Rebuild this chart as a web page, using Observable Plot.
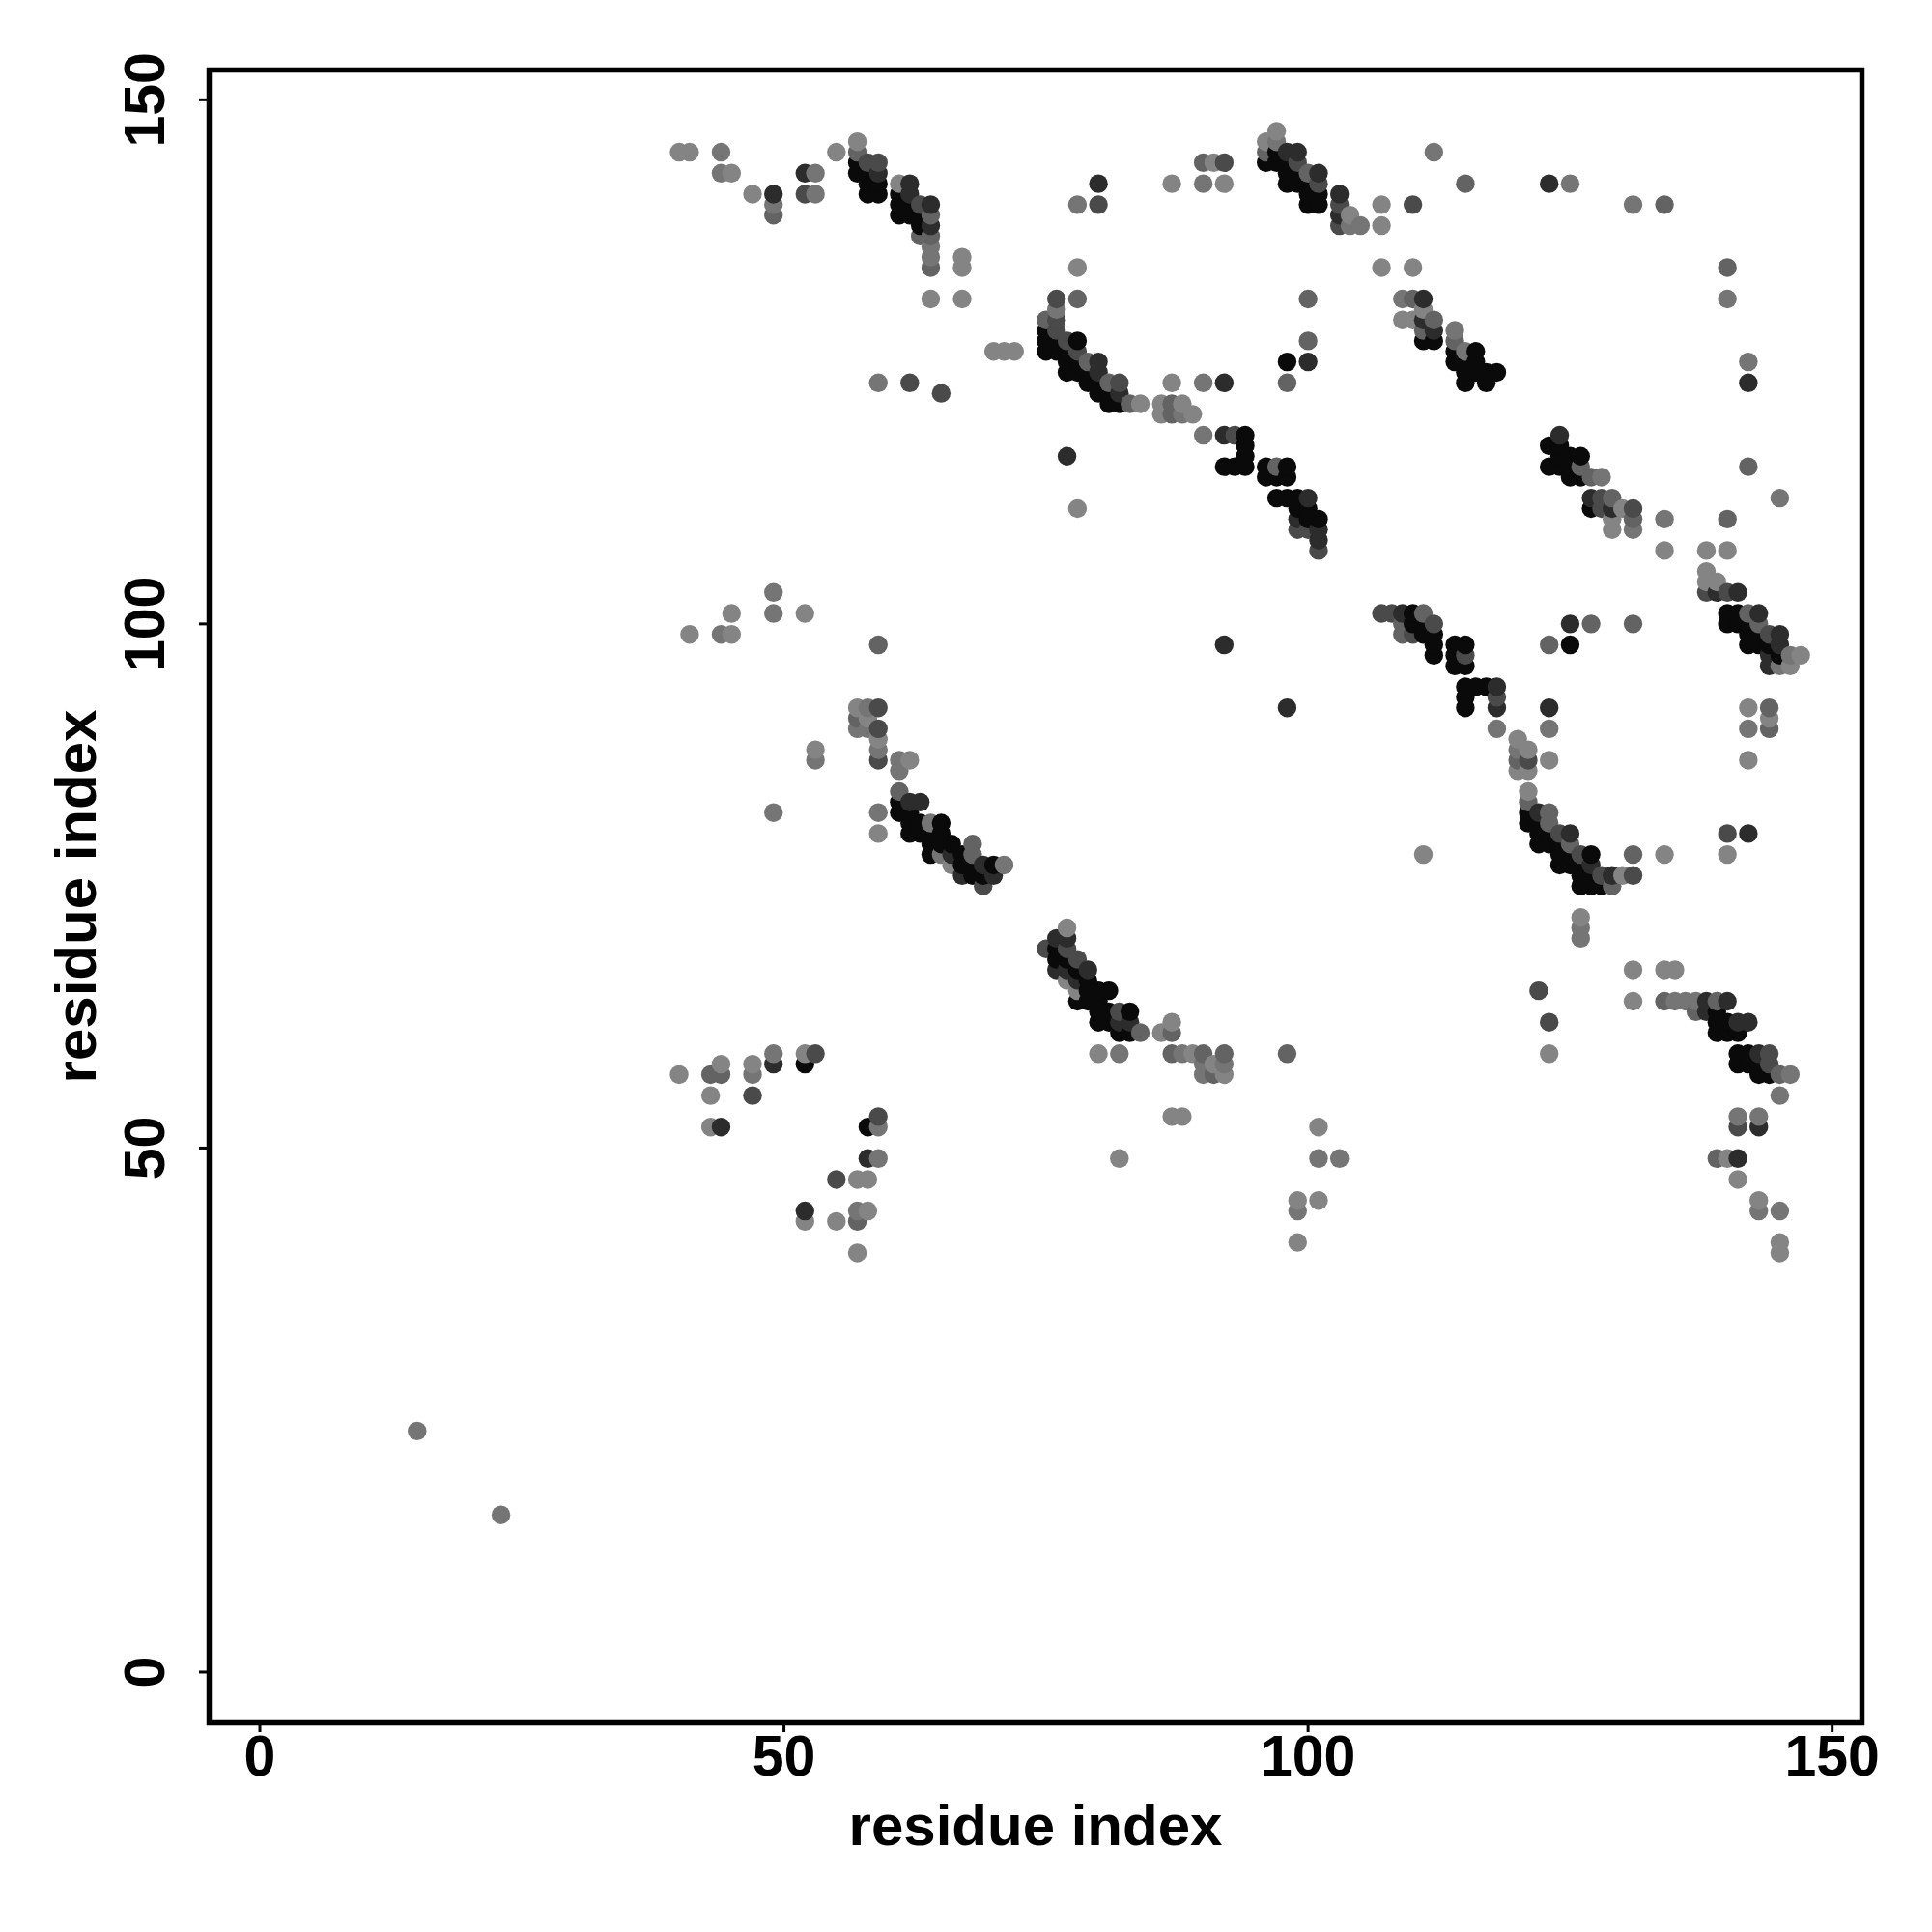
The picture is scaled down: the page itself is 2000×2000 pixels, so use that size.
<!DOCTYPE html>
<html>
<head>
<meta charset="utf-8">
<script src="https://cdn.jsdelivr.net/npm/d3@7"></script>
<script src="https://cdn.jsdelivr.net/npm/@observablehq/plot@0.6"></script>
<style>html,body{margin:0;padding:0;background:#fff}svg{display:block}</style>
</head>
<body>
<div id="chart"></div>
<script>
// Each row: first number = residue index on x, the rest = residue indices on y.
const shade0 = [[52,58],[57,144,143],[58,143,142,141,52],[59,142,141],[61,141,140,139,83,82],[62,140,139,82,81,80],[63,139,138,81,80],[64,80,79,78],[65,81,80,79],[66,79],[67,78,77],[68,77,76],[69,76],[70,77],
[75,128,127,126],[76,127,126,69,68],[77,126,125,124,68],[78,127,125,124,67,64],[79,124,123,66,65,64],[80,123,122,65,64,63,62],[81,122,121,65,63,62],[82,121,61],[83,63,61],
[92,115],[93,115],[94,118,117,116,115],[96,144,115,114],[97,145,144,114,112],[98,144,143,142,125,115,114,112],[99,143,142,112,111],[100,142,141,140,111,110],[101,141,140,110],
[110,101,100],[111,127,100,99],[112,127,99,98,97],[114,126,125,98,97,96],[115,125,124,123,98,96,94,93,92],[116,126,125,124,94],[117,124,123,94],[118,124],
[121,82,81],[122,81,80,79],[123,117,115,80,79],[124,117,116,115,79,78,77],[125,116,115,114,98,78,77],[126,116,114,77,76,75],[127,111,78,76,75],[128,75],
[139,63,62,61],[140,101,100,62,61],[141,101,100,61,59,58],[142,100,99,98,59,58],[143,99,98,58,57],[144,98,57],[145,97]];
const shade1 = [[44,52],[49,141,58],[52,143,44],[58,49],[59,143],[62,142,141,83],[63,83],[64,140,138],[66,78],[67,76],[69,77],[70,76],
[76,70,67],[77,116,70,67],[78,66],[79,67],[80,142,125,124],[82,122,62],[83,62],[92,123,118,98],[98,145,92],[99,145,110],[100,125,112],[101,143,109,108],[103,141,139],
[109,101],[111,131,129],[112,128],[118,94,92],[122,82],[123,142,92],[124,118],[125,100,80],[127,112,77],[129,111,76],[138,64,63],[139,103],[140,64],[141,103,62,49],[142,123,80,62],[143,101,59,52],[144,97,96],[145,99,98]];
const shade2 = [[47,55],[52,141],[53,59],[55,47],[58,144],[59,144,92,90,87,53],[62,123],[63,140],[65,122],[69,75],[75,69],[76,131,129,128],[77,127,69],[78,126,68],[80,140],[82,123,63],
[92,144],[93,118],[99,144,109],[100,109],[101,142,107],[103,140,138],[107,101],[108,101],[110,140,99],[112,100],[115,97],[118,93],[121,87],[122,65],[123,62],[124,80],[126,78],[128,112,111,76],[131,111,76],[138,103],[140,103,80],[141,52],[144,99,59,58]];
const shade3 = [[43,57],[44,57],[49,139],[57,145,91,43],[59,98],[61,84],[63,137],[64,139,137,134],[68,79,78],[75,129],[78,131],[79,125],[81,123],[83,121],[84,61],[87,121,120,61,59],[90,144,59],[91,57],[92,59],[96,145],[97,115],[98,123,59],[100,143,131,127],
[109,100,99],[110,131],[111,128,101],[112,129],[114,127],[115,142],[120,87],[121,83],[123,82,81,98],[125,79],[126,115],[127,114,100],[129,112,75],[131,110,100,78],[134,140,64],[137,63],[139,64,49],[140,134,110],[142,115,101],[143,100],[144,92,90],[145,57]];
const shade4 = [[15,23],[23,15],[44,145,143,99],[47,57],[49,140,103,101,82,59],[53,143,141,87],[57,90,44],[58,92,90],[59,123,88,82,52,49],[61,87,86],[64,136,135,81],[65,78],[71,77],[76,130],[78,140],[82,59],[88,120,59],[90,142,123,118,58,57],[92,58],[97,146],[99,44],[101,49],[103,49],[104,138],[105,138],
[109,131],[112,145],[114,128],[115,126],[118,90],[120,88],[123,90],[125,142],[126,71,70],[128,114],[131,140,109],[134,110],[135,64],[136,64],[137,64],[140,131],[141,53],[142,125,90],[143,53,44],[145,112,96,55,44],[146,97,57]];
const shade5 = [[40,145,57],[41,145,99],[43,55,52],[44,58],[45,143,101,99],[47,141,58],[52,101,59,43],[53,88],[55,145,43],[57,146,92,47,40],[58,91,47,44],[59,89,80],[61,142],[62,87],[64,131],[66,77],[67,135,134,131],[70,126],[71,126],[72,126],
[77,71,66],[78,134,111,65],[80,59],[82,49],[84,121],[86,121,120,61],[87,142,123,62,53],[88,121,53],[89,120,59],[91,144,58],[92,142,57],[96,146],[97,147],[99,45,41],[101,52,45],[104,139],[107,140,138,134],[109,129],[110,134,129],[111,130,78],
[120,89,86],[121,88,86,84],[123,87,59],[126,72],[129,110,109],[130,111,76],[131,67,64],[134,107,78,67],[135,67],[138,107,105,104],[139,104],[140,107,78,49],[141,47],[142,92,87],[143,45],[144,91],[145,41,40],[146,96],[147,97]];

const shades = [
  [shade0, "#0a0a0a"], [shade1, "#2c2c2c"], [shade2, "#4a4a4a"],
  [shade3, "#636363"], [shade4, "#757575"], [shade5, "#848484"]
];
const ticks = [0, 50, 100, 150];
const axisTitle = "residue index";

const contacts = shades
  .flatMap(([rows, tone]) => rows.flatMap(([x, ...ys]) => ys.map(y => ({x, y, tone}))))
  .sort((a, b) => a.x - b.x || a.y - b.y);

const font = "'Liberation Sans', Arial, sans-serif";
const chart = Plot.plot({
  width: 2000, height: 2000,
  marginLeft: 216, marginRight: 73, marginTop: 72, marginBottom: 217,
  style: {background: "#fff", fontFamily: font},
  x: {domain: [-4.84, 152.84]},
  y: {domain: [-4.84, 152.84]},
  color: {type: "identity"},
  marks: [
    Plot.dot(contacts, {x: "x", y: "y", r: 9.7, fill: "tone", stroke: "none"}),
    Plot.frame({stroke: "#000", strokeWidth: 5.5}),
    Plot.axisX({ticks, tickSize: 10, tickPadding: 3, tickFormat: d => d, fontSize: 59, fontWeight: "bold", strokeWidth: 3, stroke: "#000", fill: "#000", label: null}),
    Plot.axisY({ticks, tickSize: 10, tickPadding: 37, tickRotate: -90, tickFormat: d => d, fontSize: 59, fontWeight: "bold", strokeWidth: 3, stroke: "#000", fill: "#000", textAnchor: "middle", label: null}),
    Plot.text([axisTitle], {frameAnchor: "bottom", dy: 126, fontSize: 60, fontWeight: "bold", fill: "#000", text: d => d}),
    Plot.text([axisTitle], {frameAnchor: "left", dx: -137, rotate: -90, textAnchor: "middle", fontSize: 60, fontWeight: "bold", fill: "#000", text: d => d})
  ]
});
document.getElementById("chart").append(chart);
</script>
</body>
</html>
